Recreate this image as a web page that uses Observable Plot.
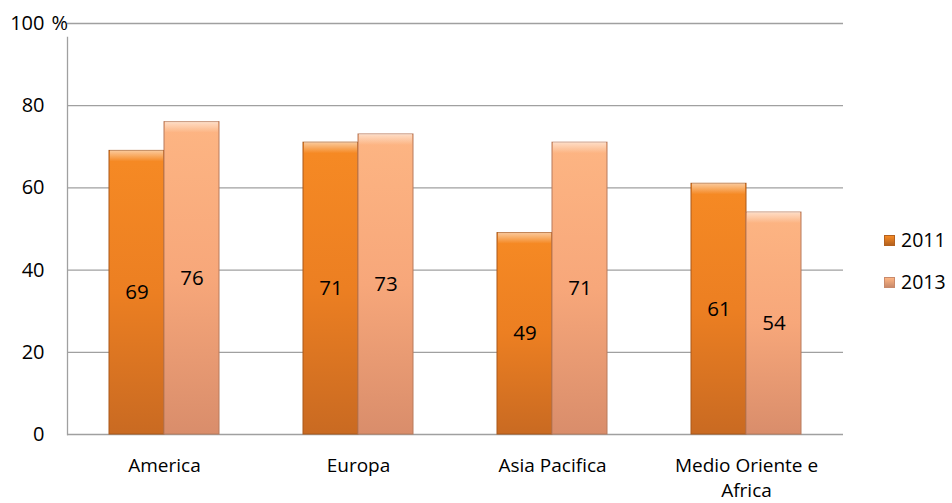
<!DOCTYPE html>
<html>
<head>
<meta charset="utf-8">
<script src="https://cdn.jsdelivr.net/npm/d3@7"></script>
<script src="https://cdn.jsdelivr.net/npm/@observablehq/plot@0.6"></script>
<style>
  html, body { margin: 0; padding: 0; background: #fff; }
  #wrap { position: relative; width: 952px; height: 503px; font-family: "Open Sans", sans-serif; }
  .legend { position: absolute; left: 884px; font-size: 19.5px; line-height: 20px; color: #000; display: flex; align-items: center; }
  .legend .sw { width: 11px; height: 11px; margin-right: 6px; box-sizing: border-box; }
</style>
</head>
<body>
<div id="wrap"></div>
<script>
const categories = ["America", "Europa", "Asia Pacifica", "Medio Oriente e Africa"];
const series = ["2011", "2013"];
const values2011 = [69, 71, 49, 61];
const values2013 = [76, 73, 71, 54];
const yTicks = [0, 20, 40, 60, 80, 100];
const unitLabel = "%";

const data = [];
categories.forEach((c, i) => {
  data.push({cat: c, year: "2011", value: values2011[i]});
  data.push({cat: c, year: "2013", value: values2013[i]});
});

const ns = "http://www.w3.org/2000/svg";
const defs = () => {
  const d = document.createElementNS(ns, "defs");
  d.innerHTML = `
    <linearGradient id="g2011" x1="0" y1="0" x2="0" y2="1">
      <stop offset="0" stop-color="#f68a24"/>
      <stop offset="0.5" stop-color="#ec7f22"/>
      <stop offset="1" stop-color="#c96a22"/>
    </linearGradient>
    <linearGradient id="g2013" x1="0" y1="0" x2="0" y2="1">
      <stop offset="0" stop-color="#fdb583"/>
      <stop offset="0.5" stop-color="#f7a77a"/>
      <stop offset="1" stop-color="#d98d6b"/>
    </linearGradient>
    <linearGradient id="bevel" x1="0" y1="0" x2="0" y2="1">
      <stop offset="0" stop-color="#fff" stop-opacity="0.55"/>
      <stop offset="1" stop-color="#fff" stop-opacity="0"/>
    </linearGradient>`;
  return d;
};

const chart = Plot.plot({
  width: 952,
  height: 503,
  marginLeft: 66,
  marginRight: 109,
  marginTop: 23,
  marginBottom: 69,
  style: {fontFamily: "Open Sans, sans-serif", fontSize: "19px", color: "#000", background: "#fff"},
  fx: {domain: categories, padding: 0, label: null, axis: null},
  x: {domain: series, paddingInner: 0, paddingOuter: 0.75, axis: null},
  y: {domain: [0, 100], ticks: yTicks, label: null, axis: null},
  marks: [
    defs,
    Plot.gridY(yTicks.filter(t => t > 0), {stroke: "#a0a0a0", strokeOpacity: 1, strokeWidth: 1.3}),
    Plot.ruleY([0], {stroke: "#a0a0a0", strokeWidth: 1.6}),
    Plot.frame({anchor: "left", facetAnchor: "left", insetTop: 14, stroke: "#a0a0a0", strokeWidth: 1.3}),
    Plot.axisY(yTicks, {tickSize: 0, tickPadding: 23, fontSize: 20, label: null}),
    Plot.axisY([100], {tickSize: 0, tickPadding: 16, textAnchor: "start", tickFormat: () => unitLabel, fontSize: 20, label: null}),
    Plot.barY(data, {fx: "cat", x: "year", y: "value",
      fill: d => d.year === "2011" ? "url(#g2011)" : "url(#g2013)",
      stroke: d => d.year === "2011" ? "#a9591b" : "#b87a5c", strokeWidth: 1}),
    Plot.barY(data, {fx: "cat", x: "year", y1: "value", y2: "value", insetBottom: -11, insetLeft: 1, insetRight: 1,
      fill: "url(#bevel)"}),
    Plot.text(data, {fx: "cat", x: "year", y: d => d.value / 2, text: d => String(d.value), fontSize: 20.5, fill: "#000"}),
    Plot.axisFx({tickSize: 0, tickPadding: 20, fontSize: 19, lineHeight: 1.3, label: null, lineWidth: 9, anchor: "bottom"})
  ]
});
document.getElementById("wrap").appendChild(chart);

const legendColors = {"2011": ["#f68a24", "#b3611f"], "2013": ["#fdb583", "#c98a6b"]};
const legendTops = [230, 272];
series.forEach((s, i) => {
  const el = document.createElement("div");
  el.className = "legend";
  el.style.top = legendTops[i] + "px";
  el.innerHTML = `<span class="sw" style="background:linear-gradient(${legendColors[s][0]}, ${legendColors[s][1]});border:1px solid ${legendColors[s][1]}"></span>${s}`;
  document.getElementById("wrap").appendChild(el);
});
</script>
</body>
</html>
